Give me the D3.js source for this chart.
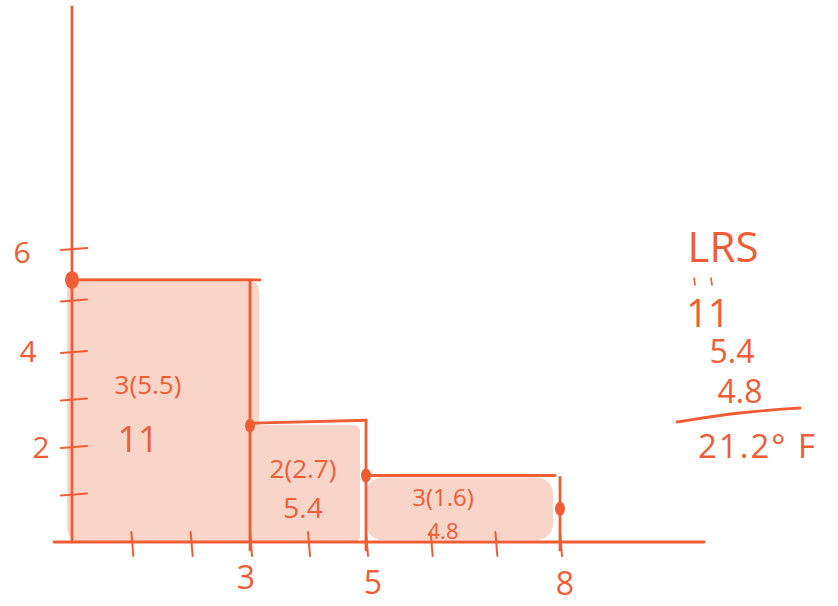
<!DOCTYPE html>
<html>
<head>
<meta charset="utf-8">
<script src="https://cdn.jsdelivr.net/npm/d3@7"></script>
<style>
  html, body { margin: 0; padding: 0; background: #ffffff; }
  svg { display: block; }
  text { font-family: "Open Sans", "Lato", sans-serif; fill: #f05d35; }
</style>
</head>
<body>
<svg id="chart" width="838" height="606"></svg>
<script>
// ---- data ----
const xTickValues = [1, 2, 3, 4, 5, 6, 7, 8];
const xTickLabels = ["3", "5", "8"];          // labelled x ticks
const xLabelValues = [3, 5, 8];
const yTickValues = [1, 2, 3, 4, 5, 6];
const yTickLabels = ["6", "4", "2"];
const yLabelValues = [6, 4, 2];
const intervalStarts = [0, 3, 5];
const intervalEnds = [3, 5, 8];
const leftHeights = [5.4, 2.5, 1.4];          // drawn heights of the rectangles
const pointX = [0, 3, 5, 8];
const pointY = [5.4, 2.45, 1.4, 0.7];
const rectLabels = ["3(5.5)", "2(2.7)", "3(1.6)"];
const rectAreas = ["11", "5.4", "4.8"];
const summaryTitle = "LRS";
const summaryTerms = ["11", "5.4", "4.8"];
const summaryTotal = "21.2° F";

// ---- style ----
const ink = "#f05d35";
const fillCol = "#f9d4c9";

const svg = d3.select("#chart");

// hand-drawn, slightly uneven grid -> polylinear scales
const x = d3.scaleLinear().domain([0, 3, 5, 8]).range([72, 250, 366, 560]);
const y = d3.scaleLinear().domain([0, 2, 4, 6]).range([542, 447, 352, 249]);

// ---- shaded areas ----
const fills = svg.append("g");
intervalStarts.forEach((s, i) => {
  const pad = [{l: -5, r: 9, t: -2, b: 0, rr: 14},
               {l: 0, r: -6, t: 2, b: 0, rr: 6},
               {l: 0, r: -7, t: 2, b: -2, rr: 16}][i];
  const x0 = x(s) + pad.l, x1 = x(intervalEnds[i]) + pad.r;
  const y0 = y(leftHeights[i]) + pad.t, y1 = y(0) + pad.b;
  fills.append("rect")
    .attr("x", x0).attr("y", y0)
    .attr("width", x1 - x0).attr("height", y1 - y0)
    .attr("rx", pad.rr).attr("ry", pad.rr)
    .attr("fill", fillCol);
});

const lines = svg.append("g")
  .attr("stroke", ink).attr("stroke-width", 2.8)
  .attr("stroke-linecap", "round").attr("fill", "none");

// ---- axes ----
lines.append("line").attr("x1", x(0)).attr("x2", x(0)).attr("y1", 7).attr("y2", y(0));
lines.append("line").attr("x1", 54).attr("x2", 704).attr("y1", y(0)).attr("y2", y(0));

// y ticks
yTickValues.forEach(v => {
  lines.append("line")
    .attr("x1", x(0) - 11).attr("x2", x(0) + 15)
    .attr("y1", y(v) + 1).attr("y2", y(v) - 1)
    .attr("stroke-width", 2.2);
});
// x ticks
xTickValues.forEach(v => {
  lines.append("line")
    .attr("x1", x(v)).attr("x2", x(v) + 2)
    .attr("y1", y(0) - 10).attr("y2", y(0) + 14)
    .attr("stroke-width", 2);
});

// ---- rectangle outlines (top + right side) ----
const topOver = [10, 0, -5];
const topTilt = [0, -3, 0];
intervalStarts.forEach((s, i) => {
  const e = intervalEnds[i];
  const top = y(leftHeights[i]);
  lines.append("line")
    .attr("x1", x(s)).attr("x2", x(e) + topOver[i])
    .attr("y1", top).attr("y2", top + topTilt[i]);
  lines.append("line")
    .attr("x1", x(e)).attr("x2", x(e))
    .attr("y1", i === 2 ? top + 2 : top + topTilt[i]).attr("y2", y(0) + 8);
});

// ---- points ----
svg.append("g").selectAll("ellipse")
  .data(pointX.map((d, i) => ({x: d, y: pointY[i], i})))
  .join("ellipse")
  .attr("cx", d => x(d.x))
  .attr("cy", d => y(d.y))
  .attr("rx", d => d.i === 0 ? 7 : 5)
  .attr("ry", d => d.i === 0 ? 9 : 7)
  .attr("fill", ink);

// ---- tick labels ----
const labels = svg.append("g").attr("text-anchor", "middle");
const yLabOff = [{dx: -50, dy: 14}, {dx: -44, dy: 10}, {dx: -31, dy: 11}];
yLabelValues.forEach((v, i) => {
  labels.append("text")
    .attr("x", x(0) + yLabOff[i].dx).attr("y", y(v) + yLabOff[i].dy)
    .attr("font-size", 30).text(yTickLabels[i]);
});
const xLabOff = [{dx: -4, dy: 47}, {dx: 7, dy: 52}, {dx: 5, dy: 53}];
xLabelValues.forEach((v, i) => {
  labels.append("text")
    .attr("x", x(v) + xLabOff[i].dx).attr("y", y(0) + xLabOff[i].dy)
    .attr("font-size", 32).text(xTickLabels[i]);
});

// ---- rectangle annotations ----
const annPos = [{x: 148, y: 394, ax: 138, ay: 452, fs: 26, afs: 36},
                {x: 303, y: 478, ax: 303, ay: 518, fs: 26, afs: 28},
                {x: 443, y: 506, ax: 443, ay: 539, fs: 24, afs: 22}];
rectLabels.forEach((t, i) => {
  labels.append("text").attr("x", annPos[i].x).attr("y", annPos[i].y)
    .attr("font-size", annPos[i].fs).text(t);
  labels.append("text").attr("x", annPos[i].ax).attr("y", annPos[i].ay)
    .attr("font-size", annPos[i].afs).text(rectAreas[i]);
});

// ---- summary on the right ----
labels.append("text").attr("x", 723).attr("y", 262).attr("font-size", 42).text(summaryTitle);
// ditto marks
[694, 711].forEach(dx => {
  lines.append("line").attr("x1", dx).attr("x2", dx + 1)
    .attr("y1", 278).attr("y2", 285).attr("stroke-width", 1.6);
});
const termPos = [{x: 708, y: 327, fs: 38}, {x: 732, y: 363, fs: 32}, {x: 740, y: 403, fs: 32}];
summaryTerms.forEach((t, i) => {
  labels.append("text").attr("x", termPos[i].x).attr("y", termPos[i].y)
    .attr("font-size", termPos[i].fs).text(t);
});
lines.append("path")
  .attr("d", d3.line().curve(d3.curveBasis)([[677, 422], [740, 412], [800, 408]]));
svg.append("text").attr("x", 698).attr("y", 458).attr("font-size", 33)
  .attr("letter-spacing", 2).text(summaryTotal);
</script>
</body>
</html>
